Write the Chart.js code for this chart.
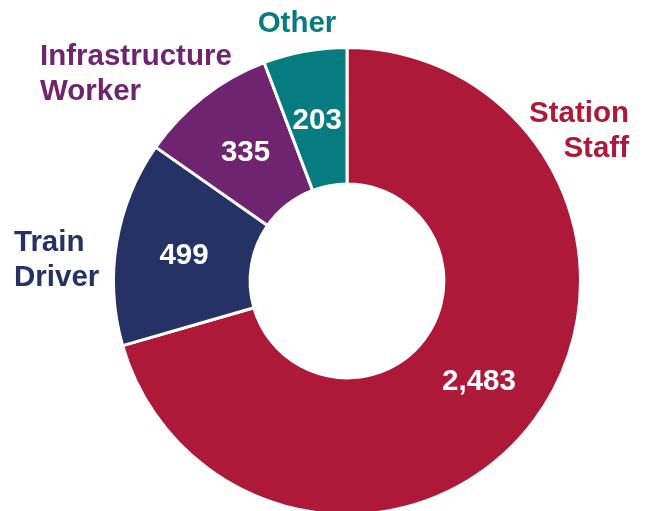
<!DOCTYPE html>
<html>
<head>
<meta charset="utf-8">
<script src="https://cdn.jsdelivr.net/npm/chart.js@4.4.0/dist/chart.umd.min.js"></script>
<style>
  html, body { margin: 0; padding: 0; background: #fff; overflow: hidden; }
  #wrap { width: 649px; height: 511px; overflow: hidden; }
</style>
</head>
<body>
<div id="wrap">
  <canvas id="canvas" width="649" height="517"></canvas>
</div>
<script>
// data, clockwise from 12 o'clock
var categories = ['Station Staff', 'Train Driver', 'Infrastructure Worker', 'Other'];
var counts = [2483, 499, 335, 203];
var colors = ['#AE1839', '#243265', '#6F2470', '#077C80'];

// outer label text, one line per entry
var labelLines = [['Station', 'Staff'], ['Train', 'Driver'], ['Infrastructure', 'Worker'], ['Other']];
// label anchor relative to doughnut centre
var labelPos = [
  { dx: 282, dy: -159, align: 'right' },
  { dx: -333, dy: -30, align: 'left' },
  { dx: -307, dy: -216, align: 'left' },
  { dx: -50, dy: -249, align: 'center' }
];

var FONT = 'bold 29.5px Arial, "Liberation Sans", sans-serif';

var labelsPlugin = {
  id: 'labels',
  afterDatasetsDraw: function(chart) {
    var ctx = chart.ctx;
    var meta = chart.getDatasetMeta(0);
    var cx = meta.data[0].x, cy = meta.data[0].y;
    ctx.save();
    ctx.font = FONT;
    ctx.textBaseline = 'alphabetic';
    meta.data.forEach(function(arc, i) {
      // value inside the slice
      var p = arc.tooltipPosition();
      ctx.fillStyle = '#fff';
      ctx.textAlign = 'center';
      ctx.fillText(counts[i].toLocaleString('en-US'), p.x, p.y + 10);
      // category outside
      var lp = labelPos[i];
      ctx.fillStyle = colors[i];
      ctx.textAlign = lp.align;
      labelLines[i].forEach(function(line, j) {
        ctx.fillText(line, cx + lp.dx, cy + lp.dy + j * 35);
      });
    });
    ctx.restore();
  }
};

var ctx = document.getElementById('canvas').getContext('2d');
var chart = new Chart(ctx, {
  type: 'doughnut',
  data: {
    labels: categories,
    datasets: [{
      data: counts,
      backgroundColor: colors,
      borderColor: '#ffffff',
      borderWidth: 3,
      hoverOffset: 0
    }]
  },
  options: {
    responsive: false,
    animation: false,
    cutout: '41.5%',
    layout: { padding: { left: 112, right: 67, top: 46, bottom: 1 } },
    plugins: {
      legend: { display: false },
      tooltip: { enabled: false }
    }
  },
  plugins: [labelsPlugin]
});
</script>
</body>
</html>
